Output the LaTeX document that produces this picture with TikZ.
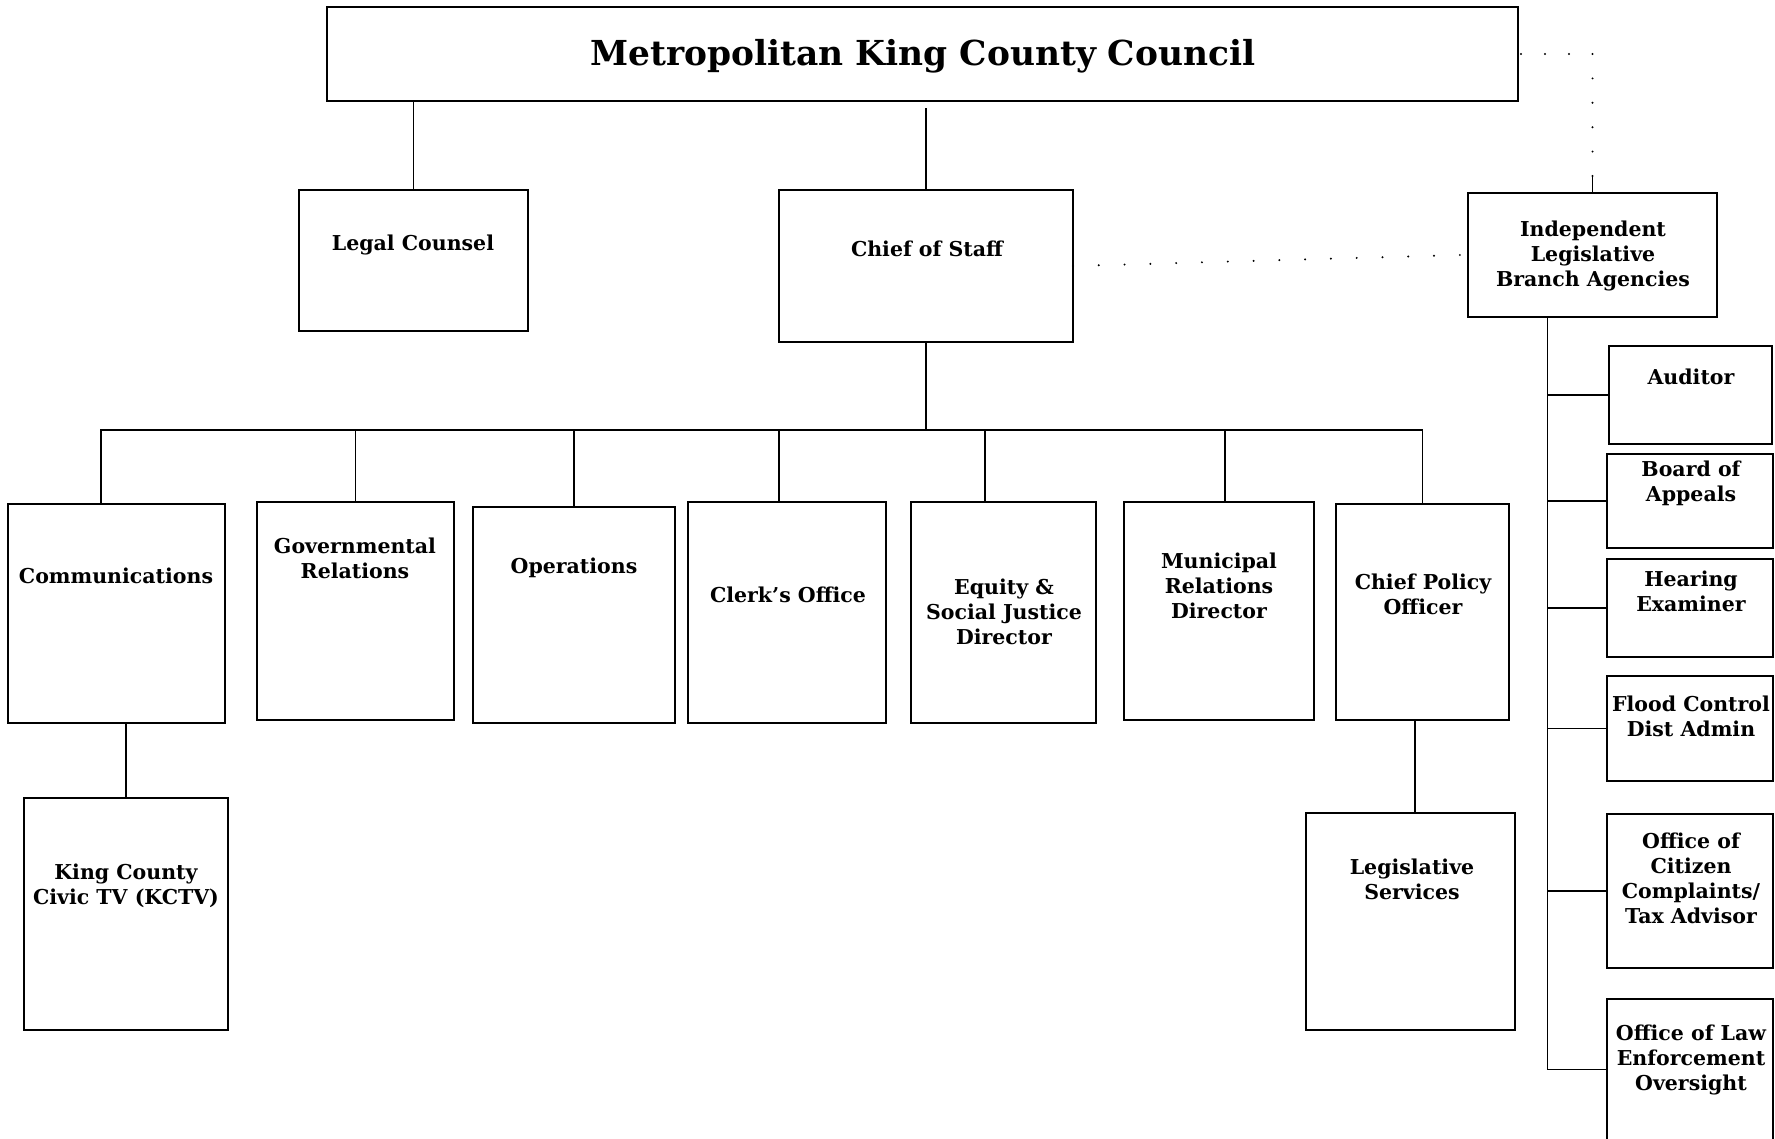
\documentclass[tikz,border=0pt]{standalone}
\usepackage{fontspec}
\setmainfont{DejaVu Serif}
\newcommand\orgbx[8]{%
  \node[box, minimum width={#4-#2}, minimum height={#5-#3}] (#1) at ({(#2+#4)/2},{(#3+#5)/2}) {};
  \node[lbl] (#1t) at (#6,#7) {#8};}
\begin{document}
\begin{tikzpicture}[x=1pt,y=-1pt,
  box/.style={draw, line width=1.3pt, inner sep=0pt, outer sep=0pt},
  lbl/.style={font=\bfseries\fontsize{20.5}{25}\selectfont, align=center, inner sep=0pt},
  ttl/.style={font=\bfseries\fontsize{34.4}{40}\selectfont, inner sep=0pt},
  conn/.style={line width=1.3pt},
  dotsH/.style={line width=2.2pt, line cap=round, dash pattern=on 0pt off 24pt},
  dotsV/.style={line width=2.2pt, line cap=round, dash pattern=on 0pt off 24.4pt},
  dotsB/.style={line width=2.2pt, line cap=round, dash pattern=on 0pt off 25.8pt}]
\clip (0,0) rectangle (1775,1139);
\fill[white] (0,0) rectangle (1775,1139);
% boxes
\node[box, minimum width=1191, minimum height=94] (top) at (922.5,54) {};
\node[ttl] (topt) at (923,56) {Metropolitan King County Council};
\orgbx{legal}{299}{190}{528}{331}{413}{245}{Legal Counsel}
\orgbx{cos}{779}{190}{1073}{342}{927}{249}{Chief of Staff}
\orgbx{ilba}{1468}{193}{1717}{317}{1593}{256}{Independent\\Legislative\\Branch Agencies}
\orgbx{comm}{8}{504}{225}{723}{116}{576}{Communications}
\orgbx{gov}{257}{502}{454}{720}{355}{558}{Governmental\\Relations}
\orgbx{ops}{473}{507}{675}{723}{574}{568}{Operations}
\orgbx{clerk}{688}{502}{886}{723}{788}{595}{Clerk’s Office}
\orgbx{equity}{911}{502}{1096}{723}{1004}{612}{Equity \&\\Social Justice\\Director}
\orgbx{muni}{1124}{502}{1314}{720}{1219}{586}{Municipal\\Relations\\Director}
\orgbx{cpo}{1336}{504}{1509}{720}{1423}{594}{Chief Policy\\Officer}
\orgbx{kctv}{24}{798}{228}{1030}{126}{886}{King County\\Civic TV (KCTV)}
\orgbx{legsvc}{1306}{813}{1515}{1030}{1412}{879}{Legislative\\Services}
\orgbx{aud}{1609}{346}{1772}{444}{1691}{377}{Auditor}
\orgbx{boa}{1607}{454}{1773}{548}{1691}{483}{Board of\\Appeals}
\orgbx{hear}{1607}{559}{1773}{657}{1691}{591}{Hearing\\Examiner}
\orgbx{flood}{1607}{676}{1773}{781}{1691}{716}{Flood Control\\Dist Admin}
\orgbx{occ}{1607}{814}{1773}{968}{1691}{878}{Office of\\Citizen\\Complaints/\\Tax Advisor}
\orgbx{law}{1607}{999}{1773}{1160}{1691}{1060}{Office of Law\\Enforcement\\Oversight}
% connectors
\draw[conn] (legal.north) -- (legal.north |- top.south);
\draw[conn] (cos.north) -- ([yshift=-7pt]cos.north |- top.south);
\coordinate (bus) at (0,430);
\draw[conn] (cos.south) -- (cos.south |- bus);
\draw[conn] ([xshift=-15.5pt]comm.north) |- (cpo.north |- bus) -- (cpo.north);
\draw[conn] (gov.north) -- (gov.north |- bus);
\draw[conn] (ops.north) -- (ops.north |- bus);
\draw[conn] ([xshift=-8pt]clerk.north) -- ([xshift=-8pt]clerk.north |- bus);
\draw[conn] ([xshift=-18.5pt]equity.north) -- ([xshift=-18.5pt]equity.north |- bus);
\draw[conn] ([xshift=6pt]muni.north) -- ([xshift=6pt]muni.north |- bus);
\draw[conn] (kctv.north) -- (kctv.north |- comm.south);
\draw[conn] ([xshift=4.5pt]legsvc.north) -- ([xshift=4.5pt]legsvc.north |- cpo.south);
\coordinate (sp) at ([xshift=-45pt]ilba.south);
\draw[conn] (sp) |- ([yshift=10pt]law.west);
\foreach \b in {aud,boa,hear,flood,occ}{\draw[conn] (\b.west) -- (\b.west -| sp);}
% dotted relations
\coordinate (dc) at (top.east -| ilba.north);
\draw[dotsH] ([xshift=3pt]top.east) -- (dc);
\draw[dotsV] (dc) -- ([yshift=16pt]ilba.north);
\draw[conn] ([yshift=16pt]ilba.north) -- (ilba.north);
\draw[dotsB] (cos.east) -- ([xshift=-8pt]ilba.west);
\end{tikzpicture}
\end{document}
